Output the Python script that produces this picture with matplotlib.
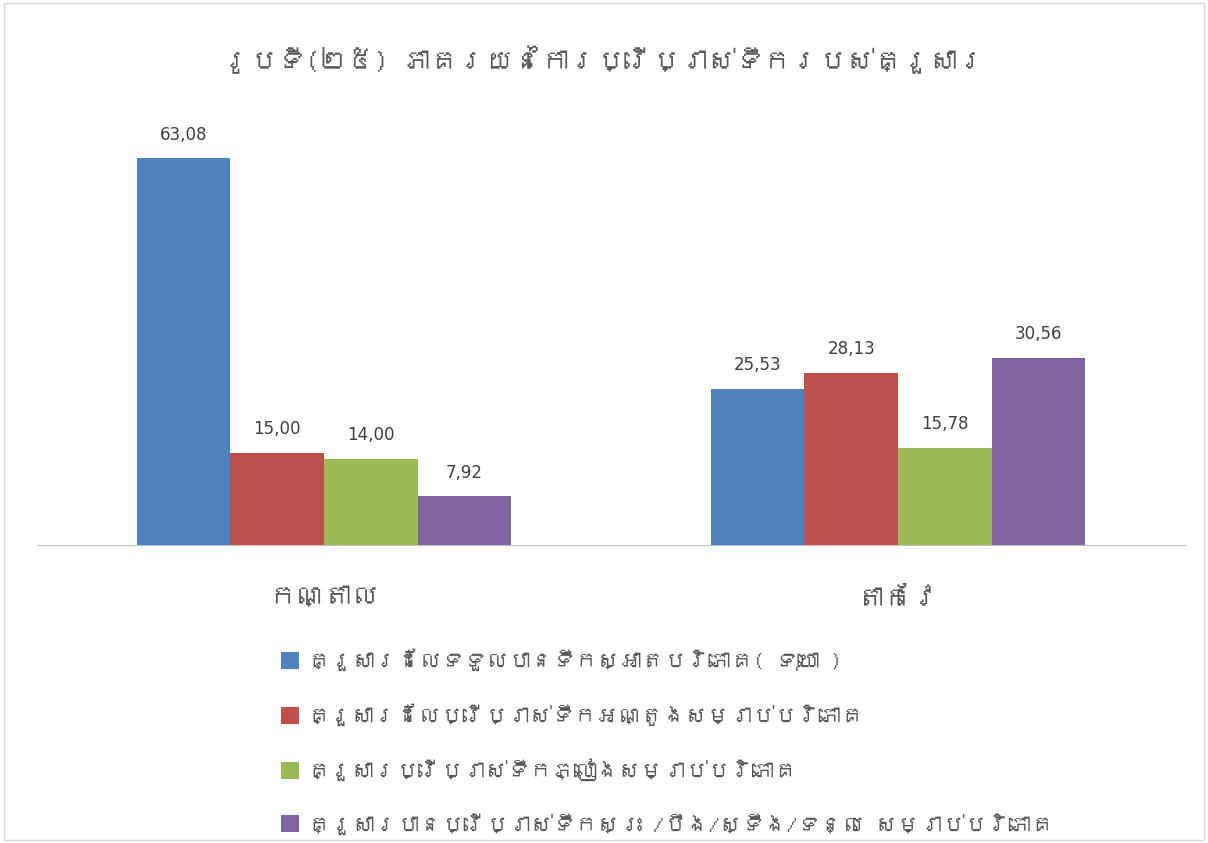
import numpy as np
import matplotlib
matplotlib.use("Agg")
import matplotlib.pyplot as plt
from matplotlib import font_manager
from matplotlib.ft2font import FT2Font

# ── Fonte: chercher une police qui couvre le khmer, sinon DejaVu ──────────
khmer_fonts = []
for f in font_manager.fontManager.ttflist:
    try:
        if 0x1780 in FT2Font(f.fname).get_charmap() and f.name not in khmer_fonts:
            khmer_fonts.append(f.name)
    except Exception:
        pass
KH = khmer_fonts[:1] + ["DejaVu Sans"]
plt.rcParams["font.family"] = KH

# ── Données ────────────────────────────────────────────────────────────────
title = "រូបទី(២៥) ភាគរយនៃការប្រើប្រាស់ទឹករបស់គ្រួសារ"
categories = ["កណ្តាល", "តាកែវ"]
series_names = [
    "គ្រួសារដែលទទួលបានទឹកស្អាតបរិភោគ( ទុយោ )",
    "គ្រួសារដែលប្រើប្រាស់ទឹកអណ្តូងសម្រាប់បរិភោគ",
    "គ្រួសារប្រើប្រាស់ទឹកភ្លៀងសម្រាប់បរិភោគ",
    "គ្រួសារបានប្រើប្រាស់ទឹកស្រះ /បឹង/ស្ទឹង/ទន្លេ សម្រាប់បរិភោគ",
]
pipe_water = [63.08, 25.53]
well_water = [15.00, 28.13]
rain_water = [14.00, 15.78]
pond_water = [7.92, 30.56]
series = [pipe_water, well_water, rain_water, pond_water]
colors = ["#4F81BD", "#C0504D", "#9BBB59", "#8064A2"]

TXT = "#595959"

# ── Figure ─────────────────────────────────────────────────────────────────
fig = plt.figure(figsize=(12.08, 8.43), dpi=100, facecolor="white")
ax = fig.add_axes([37 / 1208, 1 - 545 / 843, 1148 / 1208, 429 / 843])

x = np.arange(len(categories))
w = 0.163
for k, (vals, name, c) in enumerate(zip(series, series_names, colors)):
    pos = x + (k - 1.5) * w
    bars = ax.bar(pos, vals, width=w, color=c, label=name, zorder=2)
    for b, v in zip(bars, vals):
        ax.text(b.get_x() + b.get_width() / 2, v + 3.9, f"{v:.2f}".replace(".", ","),
                ha="center", va="center", fontsize=12, color="#404040",
                family="DejaVu Sans")

ax.set_xlim(-0.5, 1.5)
ax.set_ylim(0, 70)
ax.set_yticks([])
for s in ["top", "right", "left"]:
    ax.spines[s].set_visible(False)
ax.spines["bottom"].set_color("#BFBFBF")
ax.set_xticks(x)
ax.set_xticklabels(categories, fontsize=20, color=TXT)
ax.tick_params(axis="x", length=0, pad=30)

fig.text(0.5, 1 - 60 / 843, title, ha="center", va="center",
         fontsize=20, style="italic", color=TXT)

leg = fig.legend(loc="upper left", bbox_to_anchor=(272 / 1208, 1 - 640 / 843),
                 frameon=False, fontsize=16, handlelength=0.8, handleheight=0.8,
                 handletextpad=0.4, labelspacing=1.45, borderaxespad=0)
for t in leg.get_texts():
    t.set_color(TXT)

# cadre gris
fig.patches.append(plt.Rectangle((0.003, 0.003), 0.994, 0.994, transform=fig.transFigure,
                                 fill=False, edgecolor="#D9D9D9", lw=1))

fig.savefig("out.png", dpi=100, facecolor="white")
